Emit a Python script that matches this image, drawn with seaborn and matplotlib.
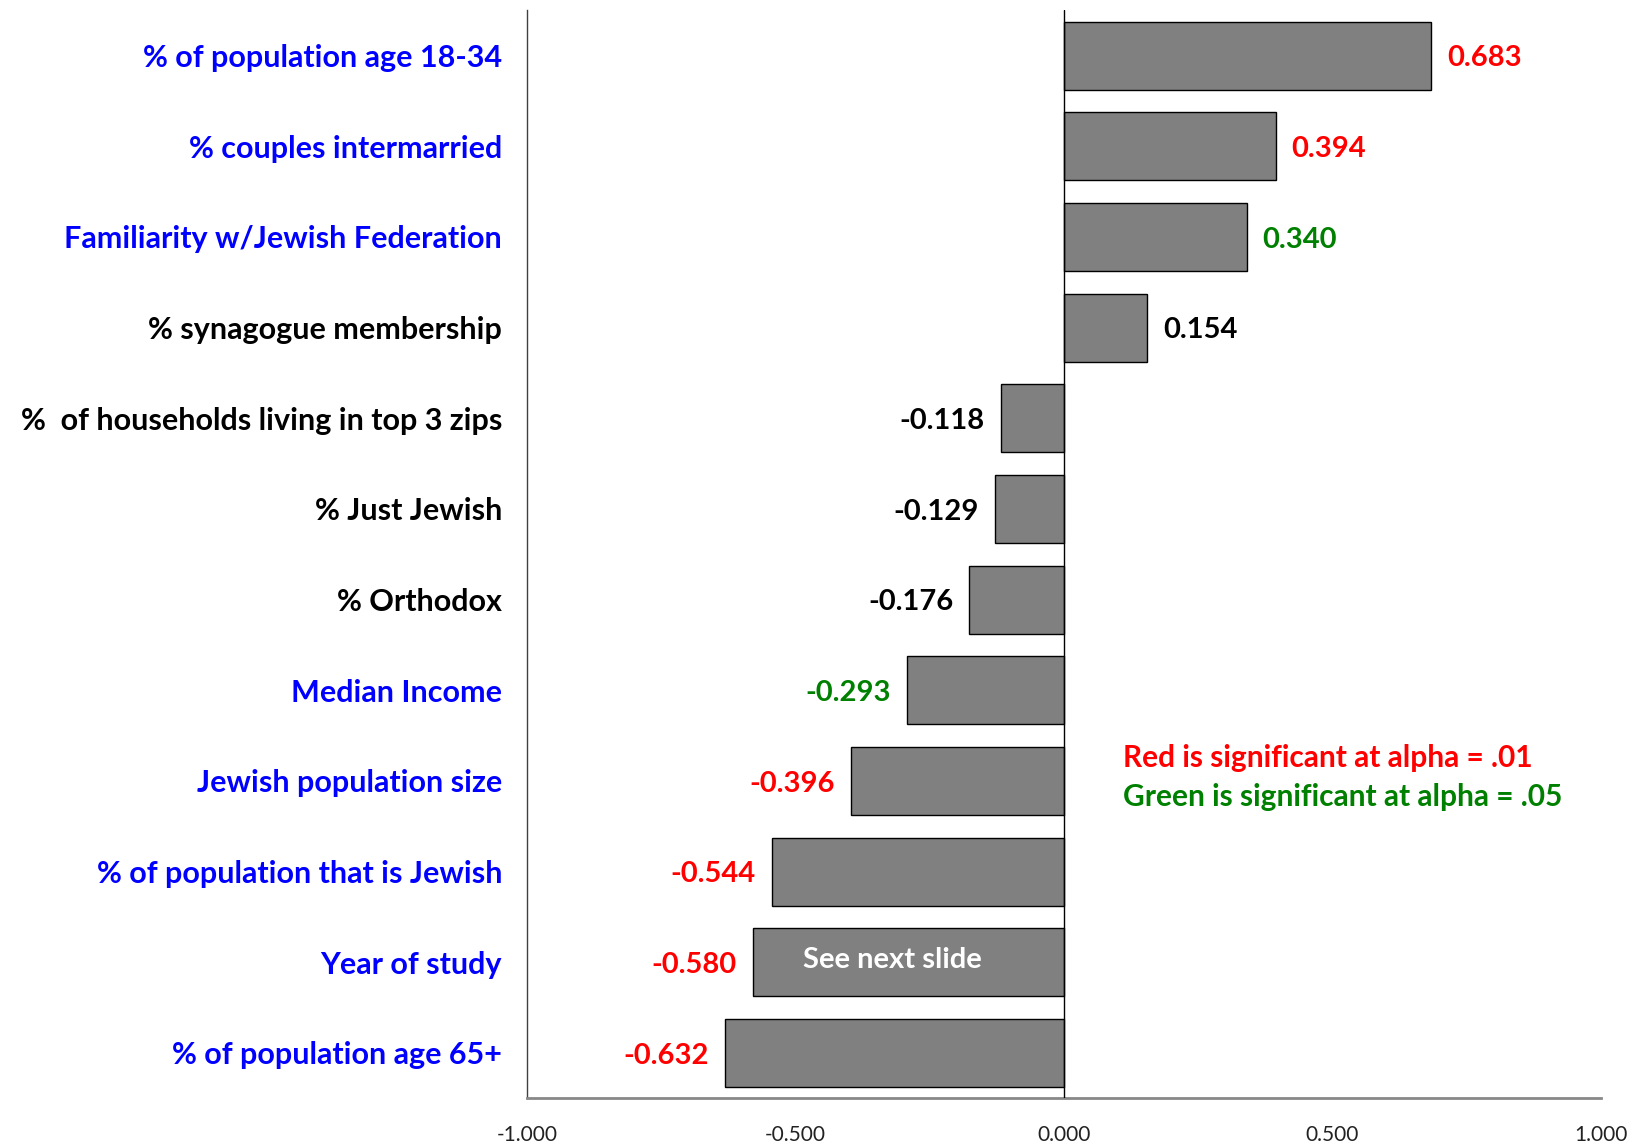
import pandas as pd
import matplotlib.pyplot as plt
import seaborn as sns

# Données
categories = ['% of population age 18-34', '% couples intermarried', 'Familiarity w/Jewish Federation',
              '% synagogue membership', '%  of households living in top 3 zips', '% Just Jewish',
              '% Orthodox', 'Median Income', 'Jewish population size', '% of population that is Jewish',
              'Year of study', '% of population age 65+']
valeurs = [0.683, 0.394, 0.340, 0.154, -0.118, -0.129, -0.176, -0.293, -0.396, -0.544, -0.580, -0.632]
signif = ['red', 'red', 'green', 'none', 'none', 'none', 'none', 'green', 'red', 'red', 'red', 'red']
x_ticks = [-1.0, -0.5, 0.0, 0.5, 1.0]

couleur_val = {'red': '#FF0000', 'green': '#008000', 'none': '#000000'}
couleur_lab = {'red': '#0000FF', 'green': '#0000FF', 'none': '#000000'}

df = pd.DataFrame({'categorie': categories, 'valeur': valeurs, 'signif': signif})

sns.set_style('white')
plt.rcParams['font.family'] = ['Lato', 'DejaVu Sans']

fig = plt.figure(figsize=(16.47, 11.44), dpi=100)
ax = fig.add_axes([0.320, 0.040, 0.652, 0.951])

sns.barplot(data=df, y='categorie', x='valeur', orient='h', color='#808080',
            edgecolor='black', linewidth=1, width=0.75, saturation=1, ax=ax)

ax.axvline(0, color='black', lw=1, zorder=3)
ax.set_xlim(-1, 1)
ax.set_ylim(11.5, -0.5)
ax.set_xticks(x_ticks)
ax.set_xticklabels([f'{t:.3f}' for t in x_ticks], fontsize=15, color='#222222')
ax.tick_params(axis='x', length=0, pad=19)
ax.tick_params(axis='y', length=0, pad=18)
ax.set_xlabel('')
ax.set_ylabel('')

for lab, s in zip(ax.get_yticklabels(), signif):
    lab.set_color(couleur_lab[s])
    lab.set_fontsize(22)
    lab.set_fontweight('bold')

# Valeurs à côté des barres
for i, (v, s) in enumerate(zip(valeurs, signif)):
    if v >= 0:
        ax.text(v + 0.03, i + 0.03, f'{v:.3f}', ha='left', va='center', fontsize=21,
                fontweight='bold', color=couleur_val[s])
    else:
        ax.text(v - 0.03, i + 0.03, f'{v:.3f}', ha='right', va='center', fontsize=21,
                fontweight='bold', color=couleur_val[s])

ax.text(-0.32, 9.98, 'See next slide', ha='center', va='center', fontsize=21,
        fontweight='bold', color='white')

ax.text(0.11, 7.75, 'Red is significant at alpha = .01', ha='left', va='center',
        fontsize=21.5, fontweight='bold', color='#FF0000')
ax.text(0.11, 8.18, 'Green is significant at alpha = .05', ha='left', va='center',
        fontsize=21.5, fontweight='bold', color='#008000')

sns.despine(ax=ax, top=True, right=True)
ax.spines['left'].set_color('#404040')
ax.spines['left'].set_linewidth(1)
ax.spines['bottom'].set_color('#888888')
ax.spines['bottom'].set_linewidth(2)

plt.savefig('out.png', dpi=100)
